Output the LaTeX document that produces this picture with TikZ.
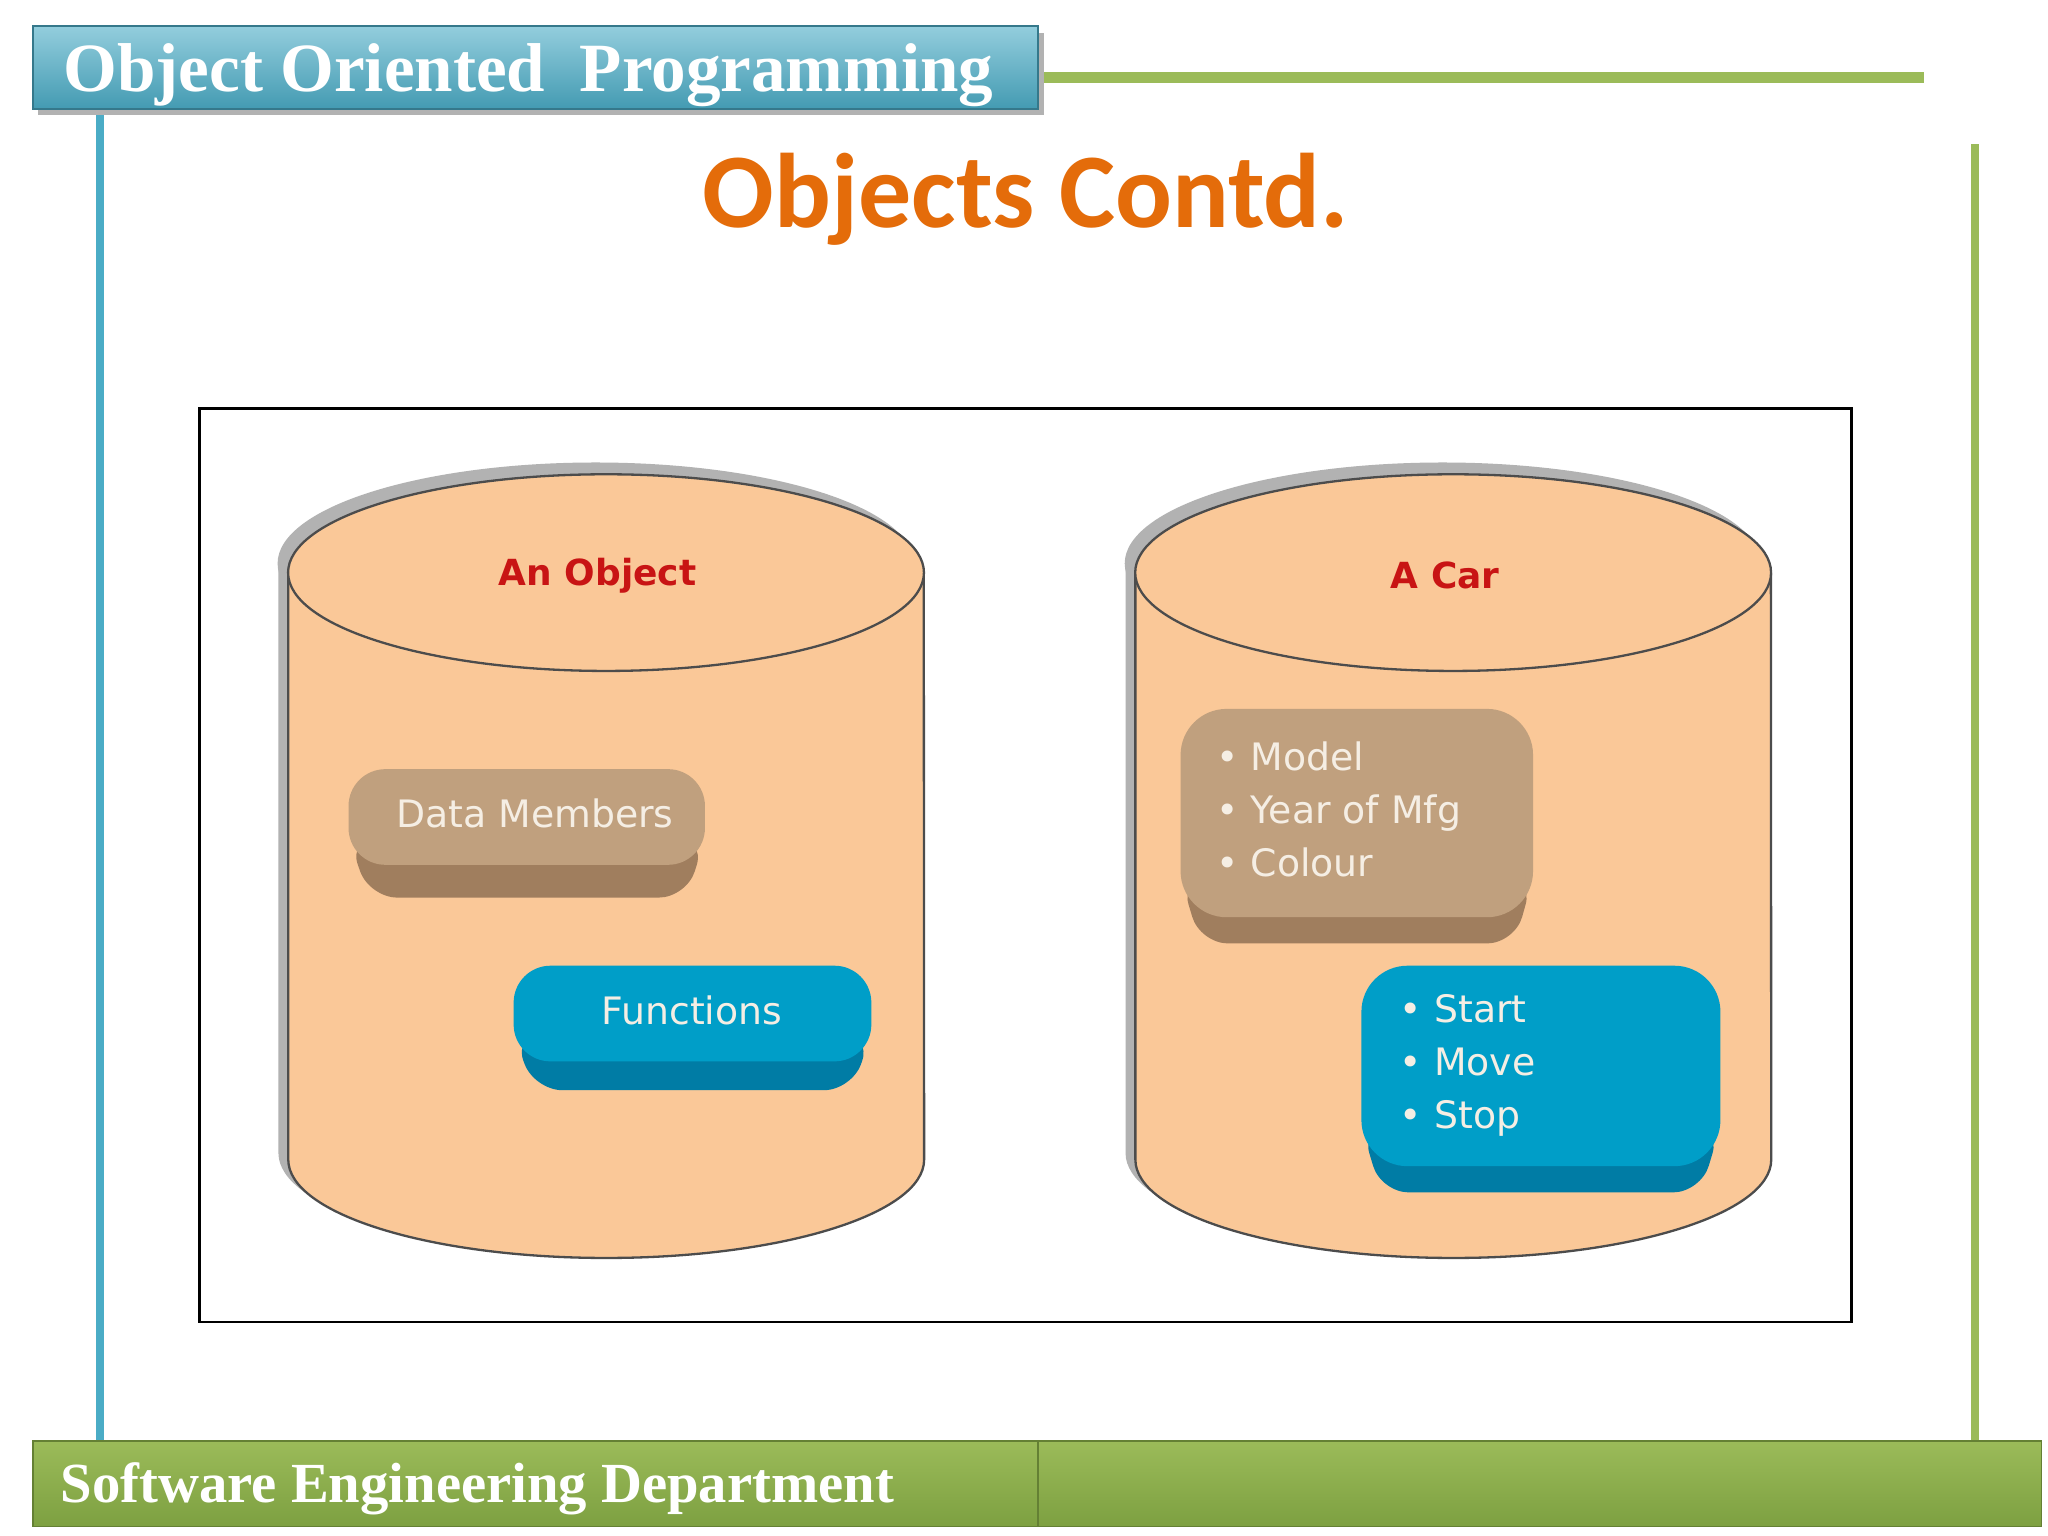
\documentclass[tikz,border=0pt]{standalone}
\usepackage{fontspec}
\setmainfont{Liberation Serif}
\newfontfamily\carl{Carlito}
\newfontfamily\dvs{DejaVu Sans}
\definecolor{ooblue}{RGB}{75,172,198}
\definecolor{oogreen}{RGB}{155,187,89}
\definecolor{oodkgreen}{RGB}{125,160,65}
\definecolor{oorange}{RGB}{228,108,10}
\definecolor{cylf}{RGB}{250,200,152}
\definecolor{brownt}{RGB}{192,160,126}
\definecolor{brownb}{RGB}{160,126,94}
\definecolor{bluet}{RGB}{0,158,200}
\definecolor{blueb}{RGB}{0,124,165}
\definecolor{boxtxt}{RGB}{245,238,228}
\definecolor{lbl}{RGB}{200,20,20}
\tikzset{
  hdr/.style={text=white,font=\bfseries\fontsize{15}{17}\selectfont,anchor=west},
  ftr/.style={text=white,font=\bfseries\fontsize{12.3}{14}\selectfont,anchor=west},
  cyl/.style={fill=cylf,draw=black!70,line width=0.5pt},
  btxt/.style={text=boxtxt,font=\dvs\fontsize{8.2}{11.5}\selectfont,anchor=west,align=left},
  clbl/.style={text=lbl,font=\dvs\bfseries\fontsize{7.8}{10}\selectfont}
}
\begin{document}
\begin{tikzpicture}[x=0.01cm,y=0.01cm]
\useasboundingbox (0,0) rectangle (1563,-1172);
\fill[white] (0,0) rectangle (1563,-1172);
% side lines
\fill[ooblue] (73,-83) rectangle (79,-1105);
\fill[oogreen] (1504,-110) rectangle (1510,-1100);
\fill[oogreen] (792,-55) rectangle (1468,-63);
% header
\fill[black!30] (29,-25) rectangle (797,-88);
\shade[top color=ooblue!60!white,bottom color=ooblue!90!black,draw=ooblue!70!black] (25,-20) rectangle (792,-83);
\node[hdr] (hd) at (36,-57) {Object Oriented\ \ Programming};
% footer
\shade[top color=oogreen,bottom color=oodkgreen,draw=oodkgreen!80!black] (25,-1100) rectangle (792,-1165);
\shade[top color=oogreen,bottom color=oodkgreen,draw=oodkgreen!80!black] (792,-1100) rectangle (1558,-1165);
\node[ftr] (ft) at (34,-1136) {Software Engineering Department};
% title
\node[text=oorange,font=\carl\bfseries\fontsize{23}{26}\selectfont] (ttl) at (783,-152) {Objects Contd.};
% frame
\draw[black,line width=0.6pt] (152,-312) rectangle (1413,-1009);
% cylinders
\foreach \cx/\nm in {462.5/o1,1109/o2}{
  \fill[black!30] (\cx-250,-430) -- (\cx-250,-880) arc[start angle=180,end angle=270,x radius=2.425cm,y radius=0.75cm] -- (\cx,-437) -- cycle;
  \fill[black!30] (\cx-8,-430) ellipse[x radius=2.425cm,y radius=0.77cm];
  \draw[cyl] (\cx-242.5,-437) -- (\cx-242.5,-885) arc[start angle=180,end angle=360,x radius=2.425cm,y radius=0.75cm] -- (\cx+242.5,-437);
  \draw[cyl] (\cx,-437) ellipse[x radius=2.425cm,y radius=0.75cm];
}
\node[clbl] (l1) at (456,-439) {An Object};
\node[clbl] (l2) at (1103,-439) {A Car};
% boxes
\fill[brownb,rounded corners=6] (266,-640) -- (538,-640) -- (524,-685) -- (282,-685) -- cycle;
\fill[brownt,rounded corners=8] (266,-587) rectangle (538,-660);
\node[btxt] (dm) at (290,-621) {Data Members};
\fill[blueb,rounded corners=6] (392,-790) -- (665,-790) -- (650,-832) -- (408,-832) -- cycle;
\fill[bluet,rounded corners=8] (392,-737) rectangle (665,-810);
\node[btxt,anchor=center] (fn) at (528,-771) {Functions};
\fill[brownb,rounded corners=6] (901,-670) -- (1170,-670) -- (1156,-720) -- (916,-720) -- cycle;
\fill[brownt,rounded corners=10] (901,-541) rectangle (1170,-700);
\node[btxt] (cb) at (916,-618) {\textbullet\ Model\\\textbullet\ Year of Mfg\\\textbullet\ Colour};
\fill[blueb,rounded corners=6] (1039,-860) -- (1313,-860) -- (1298,-910) -- (1054,-910) -- cycle;
\fill[bluet,rounded corners=10] (1039,-737) rectangle (1313,-890);
\node[btxt] (cf) at (1056,-813) {\textbullet\ Start\\\textbullet\ Move\\\textbullet\ Stop};
\end{tikzpicture}
\end{document}
